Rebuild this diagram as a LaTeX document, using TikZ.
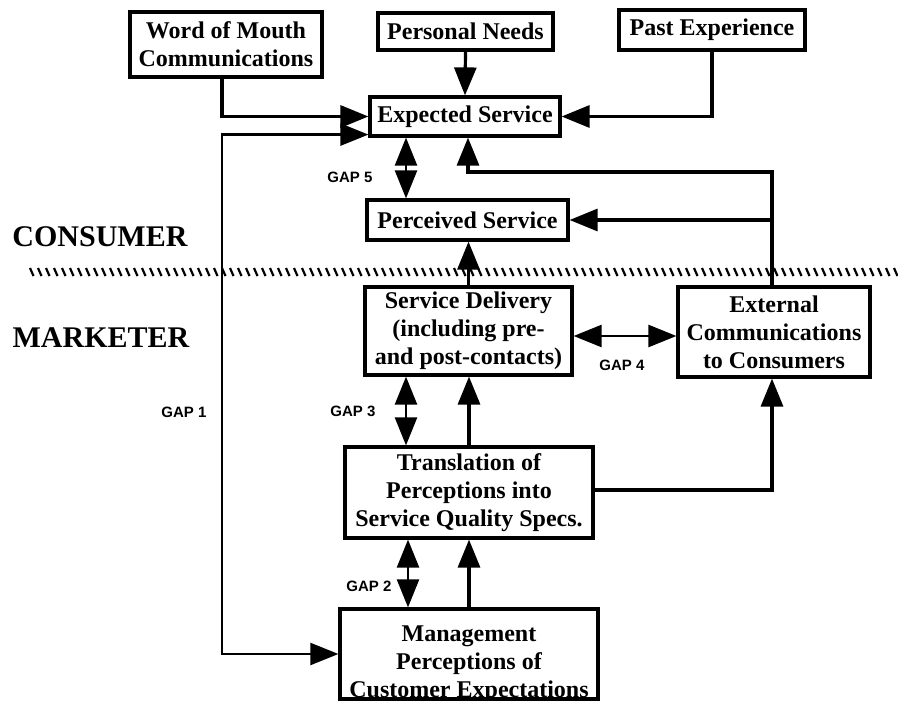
\documentclass[tikz,border=0pt]{standalone}
\usepackage{fontspec}
\setmainfont{Liberation Serif}
\newfontfamily\gapfont{Liberation Sans}
\usetikzlibrary{arrows.meta}

\begin{document}
\begin{tikzpicture}[x=1pt,y=-1pt,
  line join=miter,
  frame/.style={draw, line width=3.2pt, inner sep=0pt,
    font=\bfseries\fontsize{24}{28}\selectfont},
  box/.style={frame, align=center},
  side/.style={font=\bfseries\fontsize{30}{34}\selectfont},
  gaplabel/.style={font=\gapfont\bfseries\fontsize{15}{16}\selectfont},
  tip/.tip={Triangle[length=28pt,width=22pt]},
  conn/.style={line width=3.2pt, -tip},
  gapline/.style={line width=2.4pt, tip-tip},
  hatch/.style={line width=2.2pt}
]
\fill[white] (0,0) rectangle (898,701);
\useasboundingbox (0,0) rectangle (898,701);
\clip (0,0) rectangle (898,701);

% consumer side
\node[box, minimum width=192pt, minimum height=65pt] (wom) at (226,44.5) {Word of Mouth\\Communications};
\node[box, minimum width=175pt, minimum height=37pt] (pn) at (465.5,31.5) {Personal Needs};
\node[box, minimum width=186pt, minimum height=40pt] (pe) at (712,30) {Past Experience};
\node[box, minimum width=190pt, minimum height=39pt] (es) at (465,116.5) {Expected Service};
\node[box, minimum width=201pt, minimum height=40pt] (ps) at (467.5,220) {Perceived Service};

% marketer side
\node[box, minimum width=207pt, minimum height=88pt] (sd) at (468.5,331) {Service Delivery\\(including pre-\\and post-contacts)};
\node[box, minimum width=192pt, minimum height=90pt] (ec) at (774,332) {External\\Communications\\to Consumers};
\node[box, minimum width=248pt, minimum height=91pt] (tr) at (469,492.5) {Translation of\\Perceptions into\\Service Quality Specs.};
\node[frame, minimum width=258pt, minimum height=90pt] (mp) at (469,654)
  {\raisebox{-16pt}[0pt][0pt]{\begin{tabular}{@{}c@{}}Management\\Perceptions of\\Customer Expectations\end{tabular}}};

% side labels
\node[side] (consumer) at (100,237) {CONSUMER};
\node[side] (marketer) at (101,338) {MARKETER};

% boundary between consumer and marketer
\foreach \x in {30,38,...,894}
  \draw[hatch] (\x,268) -- (\x+3.5,276);

% inputs to expected service
\draw[conn] ([xshift=-4pt]wom.south) |- (es.west);
\draw[conn] (pn.south) -- (es.north);
\draw[conn] (pe.south) |- (es.east);

% external communications feedback
\coordinate (j1) at (772,172);
\coordinate (j2) at (772,220);
\draw[conn] ([xshift=-2pt]ec.north) -- (j1) -| ([xshift=3pt]es.south);
\draw[conn] (j2) -- (ps.east);
\draw[conn] ([yshift=2.5pt]tr.east) -| ([xshift=-2pt]ec.south);

% upward flow
\draw[conn] (sd.north) -- (sd.north |- ps.south);
\draw[conn] (tr.north) -- (tr.north |- sd.south);
\draw[conn] (mp.north) -- (mp.north |- tr.south);

% gaps
\coordinate (g1) at (222,400);
\draw[line width=2.2pt, tip-tip] ([yshift=3pt]es.south west) -| (g1) |- (mp.west);
\draw[gapline] ([xshift=-59pt]es.south) -- ([xshift=-61.5pt]ps.north);
\draw[gapline] ([xshift=-62.5pt]sd.south) -- ([xshift=-63pt]tr.north);
\draw[gapline] ([xshift=-61pt]tr.south) -- ([xshift=-61pt]mp.north);
\draw[gapline] ([yshift=-5pt]sd.east) -- ([yshift=-4pt]ec.west);

\node[gaplabel] (gap1) at (184,412) {GAP 1};
\node[gaplabel] (gap2) at (369,586) {GAP 2};
\node[gaplabel] (gap3) at (353,411) {GAP 3};
\node[gaplabel] (gap4) at (622,365) {GAP 4};
\node[gaplabel] (gap5) at (350,177) {GAP 5};
\end{tikzpicture}
\end{document}
